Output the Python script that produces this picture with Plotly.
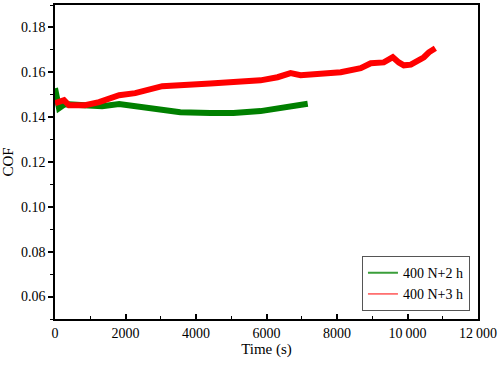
import plotly.graph_objects as go

# time (s) / COF
t_2h = [0, 114, 284, 853, 1337, 1820, 2190, 2673, 3043, 3555, 4408, 5062, 5830, 6768, 7170]
cof_2h = [0.1529, 0.1440, 0.1458, 0.1453, 0.1449, 0.1458, 0.1449, 0.1440, 0.1431, 0.1422,
          0.1418, 0.1418, 0.1427, 0.1449, 0.1460]

t_3h = [0, 256, 398, 853, 1251, 1536, 1820, 2275, 2759, 3043, 4408, 5830, 6313, 6683, 6967,
        7451, 8105, 8673, 8958, 9327, 9583, 9754, 9896, 10095, 10294, 10465, 10607, 10790]
cof_3h = [0.1462, 0.1476, 0.1453, 0.1453, 0.1467, 0.1484, 0.1498, 0.1507, 0.1524, 0.1538,
          0.1550, 0.1564, 0.1578, 0.1596, 0.1587, 0.1592, 0.1600, 0.1618, 0.1640, 0.1644,
          0.1667, 0.1644, 0.1631, 0.1634, 0.1653, 0.1667, 0.1689, 0.1707]

x_ticks = [0, 2000, 4000, 6000, 8000, 10000, 12000]
x_labels = ["0", "2000", "4000", "6000", "8000", "10\u2009000", "12\u2009000"]
y_ticks = [0.06, 0.08, 0.10, 0.12, 0.14, 0.16, 0.18]

serif = 'Liberation Serif'

fig = go.Figure()
fig.add_trace(go.Scatter(x=t_2h, y=cof_2h, mode='lines', showlegend=False,
                         line=dict(color='#008000', width=6)))
fig.add_trace(go.Scatter(x=t_3h, y=cof_3h, mode='lines', showlegend=False,
                         line=dict(color='#ff0000', width=6)))
# legend entries with thin line samples, like the original
fig.add_trace(go.Scatter(x=[None], y=[None], mode='lines', name='400 N+2 h',
                         line=dict(color='#3a9e3a', width=2)))
fig.add_trace(go.Scatter(x=[None], y=[None], mode='lines', name='400 N+3 h',
                         line=dict(color='#ff0000', width=1)))

fig.update_layout(
    width=500, height=366,
    margin=dict(l=55, r=22, t=5, b=47, autoexpand=False),
    paper_bgcolor='white', plot_bgcolor='white',
    font=dict(family=serif, size=14, color='black'),
    legend=dict(x=0.981, y=0.025, xanchor='right', yanchor='bottom',
                bordercolor='#555555', borderwidth=1, bgcolor='white',
                font=dict(family=serif, size=14), tracegroupgap=0, itemwidth=30),
)
fig.update_xaxes(
    range=[0, 12000], tickvals=x_ticks, ticktext=x_labels, automargin=False,
    ticks='inside', ticklen=5, tickwidth=1.5, tickcolor='black',
    tickfont=dict(family=serif, size=14),
    minor=dict(ticks='inside', dtick=1000, ticklen=3, tickwidth=1, tickcolor='black'),
    showline=True, linecolor='black', linewidth=1.5, mirror=True,
    showgrid=False, zeroline=False,
    title=dict(text='Time (s)', font=dict(family=serif, size=15), standoff=2),
)
fig.update_yaxes(
    range=[0.05, 0.19], tickvals=y_ticks, tickformat='.2f', automargin=False,
    ticks='outside', ticklen=5, tickwidth=1.5, tickcolor='black',
    tickfont=dict(family=serif, size=14),
    minor=dict(ticks='outside', dtick=0.01, ticklen=3, tickwidth=1, tickcolor='black'),
    showline=True, linecolor='black', linewidth=1.5, mirror=True,
    showgrid=False, zeroline=False,
    title=dict(text='COF', font=dict(family=serif, size=15), standoff=6),
)

# drop the page's default body margin so the figure sits at the window's corner
fig.write_html("out.html", config={'displayModeBar': False},
               post_script="document.body.style.margin='0';")
